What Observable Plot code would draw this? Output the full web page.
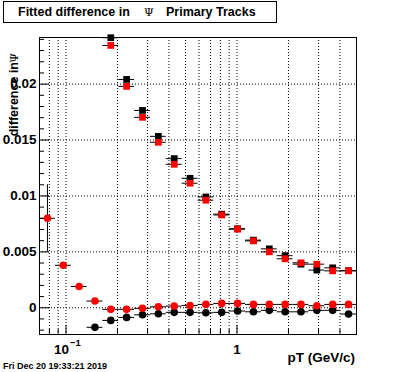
<!DOCTYPE html>
<html><head><meta charset="utf-8">
<script src="https://cdn.jsdelivr.net/npm/d3@7"></script>
<script src="https://cdn.jsdelivr.net/npm/@observablehq/plot@0.6"></script>
<style>body{margin:0;background:#fff} svg{display:block}</style>
</head><body><div id="chart"></div>
<script>
// pT bins (GeV/c), log-uniform from 0.07 to 5
const binLow    = [0.0700,0.0867,0.1073,0.1328,0.1644,0.2035,0.2519,0.3118,0.3859,0.4777,0.5914,0.7320,0.9062,1.1217,1.3885,1.7188,2.1277,2.6338,3.2603,4.0359];
const binHigh   = [0.0867,0.1073,0.1328,0.1644,0.2035,0.2519,0.3118,0.3859,0.4777,0.5914,0.7320,0.9062,1.1217,1.3885,1.7188,2.1277,2.6338,3.2603,4.0359,5.0000];
const binCenter = [0.0779,0.0964,0.1194,0.1477,0.1828,0.2263,0.2802,0.3468,0.4294,0.5315,0.6579,0.8144,1.0083,1.2481,1.5451,1.9127,2.3678,2.9311,3.6285,4.4917];

// series (null = no point)
const blackSquare = [null,null,null,null,0.02415,0.02042,0.01765,0.01533,0.01334,0.01158,0.00991,0.00837,0.00707,0.00605,0.00527,0.00466,0.00390,0.00337,0.00357,0.00332];
const redSquare   = [null,null,null,null,0.02346,0.01980,0.01703,0.01480,0.01283,0.01114,0.00962,0.00830,0.00703,0.00598,0.00500,0.00438,0.00402,0.00390,0.00330,0.00330];
const blackCircle = [null,null,null,-0.00175,-0.00113,-0.00086,-0.00063,-0.00054,-0.00041,-0.00041,-0.00045,-0.00041,-0.00029,-0.00036,-0.00023,-0.00036,-0.00036,-0.00023,-0.00023,-0.00056];
const redCircle   = [0.00800,0.00380,0.00190,0.00060,-0.00014,-0.00014,-0.00005,0.00009,0.00015,0.00021,0.00030,0.00039,0.00039,0.00030,0.00030,0.00030,0.00030,0.00018,0.00030,0.00030];
const redCircleErr= [0.00300,0,0,0,0,0,0,0,0,0,0,0,0,0,0,0,0,0,0,0];

// axes
const yTickValues = [0, 0.005, 0.01, 0.015, 0.02];
const yTickLabels = ["0", "0.005", "0.01", "0.015", "0.02"];
const yMinorTicks = [-0.002,-0.001,0.001,0.002,0.003,0.004,0.006,0.007,0.008,0.009,0.011,0.012,0.013,0.014,0.016,0.017,0.018,0.019,0.021,0.022,0.023,0.024];
const xMajorTicks = [0.1, 1];
const xMinorTicks = [0.08,0.09,0.2,0.3,0.4,0.5,0.6,0.7,0.8,0.9,2,3,4];
const xGridValues = [0.08,0.09,0.1,0.2,0.3,0.4,0.5,0.6,0.7,0.8,0.9,1,2,3,4];

const titleText = "Fitted difference in";
const titleSymbol = "Ψ";
const titleText2 = "Primary Tracks";
const yTitle = "difference in";
const xTitle = "pT (GeV/c)";
const dateText = "Fri Dec 20 19:33:21 2019";

function rows(vals, err) {
  return binCenter.map((x, i) => ({x, lo: binLow[i], hi: binHigh[i], y: vals[i], e: err ? err[i] : 0}))
    .filter(d => d.y != null);
}
const bs = rows(blackSquare), rs = rows(redSquare), bc = rows(blackCircle), rc = rows(redCircle, redCircleErr);

const W = 396, H = 372, mL = 39, mR = 40, mT = 37, mB = 38;
const fw = W - mL - mR, fh = H - mT - mB;
const font = "'Liberation Sans', Arial, Helvetica, sans-serif";
const symFont = "'DejaVu Serif', 'Liberation Serif', serif";

const chart = Plot.plot({
  width: W, height: H,
  marginLeft: mL, marginRight: mR, marginTop: mT, marginBottom: mB,
  x: {type: "log", domain: [0.07, 5], axis: null},
  y: {domain: [-0.00239, 0.02417], axis: null},
  style: {fontFamily: font, background: "white", overflow: "visible"},
  marks: [
    Plot.ruleX(xGridValues, {x: d => d, stroke: "black", strokeDasharray: "1,2"}),
    Plot.ruleY(yTickValues, {y: d => d, stroke: "black", strokeDasharray: "1,2"}),
    Plot.tickX(xMajorTicks, {x: d => d, insetTop: fh - 9, stroke: "black"}),
    Plot.tickX(xMinorTicks, {x: d => d, insetTop: fh - 5, stroke: "black"}),
    Plot.tickY(yTickValues, {y: d => d, insetRight: fw - 10, stroke: "black"}),
    Plot.tickY(yMinorTicks, {y: d => d, insetRight: fw - 5, stroke: "black"}),
    Plot.frame({stroke: "black"}),
    // black squares
    Plot.ruleY(bs, {y: "y", x1: "lo", x2: "hi", stroke: "black"}),
    Plot.dot(bs, {x: "x", y: "y", symbol: "square", r: 3.8, fill: "black"}),
    // red squares
    Plot.ruleY(rs, {y: "y", x1: "lo", x2: "hi", stroke: "black"}),
    Plot.dot(rs, {x: "x", y: "y", symbol: "square", r: 3.8, fill: "#ff0000"}),
    // black circles
    Plot.ruleY(bc, {y: "y", x1: "lo", x2: "hi", stroke: "black"}),
    Plot.dot(bc, {x: "x", y: "y", r: 3.8, fill: "black"}),
    // red circles
    Plot.ruleY(rc, {y: "y", x1: "lo", x2: "hi", stroke: "black"}),
    Plot.ruleX(rc.filter(d => d.e > 0), {x: "x", y1: d => d.y - d.e, y2: d => d.y + d.e, stroke: "black"}),
    Plot.dot(rc, {x: "x", y: "y", r: 3.8, fill: "#ff0000"}),
    // tick labels
    Plot.text(yTickValues, {y: d => d, text: (d, i) => yTickLabels[i], frameAnchor: "left", textAnchor: "end", dx: -3, fontSize: 13.5, fontWeight: "bold", fill: "black"}),
    Plot.text([1], {x: d => d, text: ["1"], frameAnchor: "bottom", lineAnchor: "top", dy: 10, fontSize: 13.5, fontWeight: "bold", fill: "black"}),
    Plot.text([0.1], {x: d => d, text: ["10"], frameAnchor: "bottom", lineAnchor: "top", textAnchor: "end", dx: 3, dy: 10, fontSize: 13.5, fontWeight: "bold", fill: "black"}),
    Plot.text([0.1], {x: d => d, text: ["\u22121"], frameAnchor: "bottom", lineAnchor: "top", textAnchor: "start", dx: 4, dy: 5, fontSize: 9.5, fontWeight: "bold", fill: "black"})
  ]
});

const svg = d3.select(chart);
// title box
svg.append("rect").attr("x", 3.5).attr("y", 1.5).attr("width", 273).attr("height", 21)
  .attr("fill", "white").attr("stroke", "black").attr("stroke-width", 1);
const tt = svg.append("text").attr("y", 15.5).attr("text-anchor", "start").attr("font-family", font)
  .attr("font-size", 12.5).attr("font-weight", "bold").attr("fill", "black");
tt.append("tspan").attr("x", 18).text(titleText);
tt.append("tspan").attr("x", 144).attr("font-family", symFont).attr("font-weight", "normal").attr("font-size", 11).text(titleSymbol);
tt.append("tspan").attr("x", 166).text(titleText2);
// y title
svg.append("text").attr("transform", "translate(18,62) rotate(-90)").attr("text-anchor", "end")
  .attr("font-family", font).attr("font-size", 12.5).attr("font-weight", "bold").attr("fill", "black").text(yTitle);
svg.append("text").attr("transform", "translate(17.5,53) rotate(-90)").attr("text-anchor", "end")
  .attr("font-family", symFont).attr("font-size", 11).attr("fill", "black").text(titleSymbol);
// x title
svg.append("text").attr("x", 355).attr("y", 362).attr("text-anchor", "end")
  .attr("font-family", font).attr("font-size", 13.5).attr("font-weight", "bold").attr("fill", "black").text(xTitle);
// date
svg.append("text").attr("x", 3).attr("y", 369).attr("text-anchor", "start").attr("font-family", font)
  .attr("font-size", 9).attr("font-weight", "bold").attr("fill", "black").text(dateText);

document.getElementById("chart").appendChild(chart);
</script>
</body></html>
